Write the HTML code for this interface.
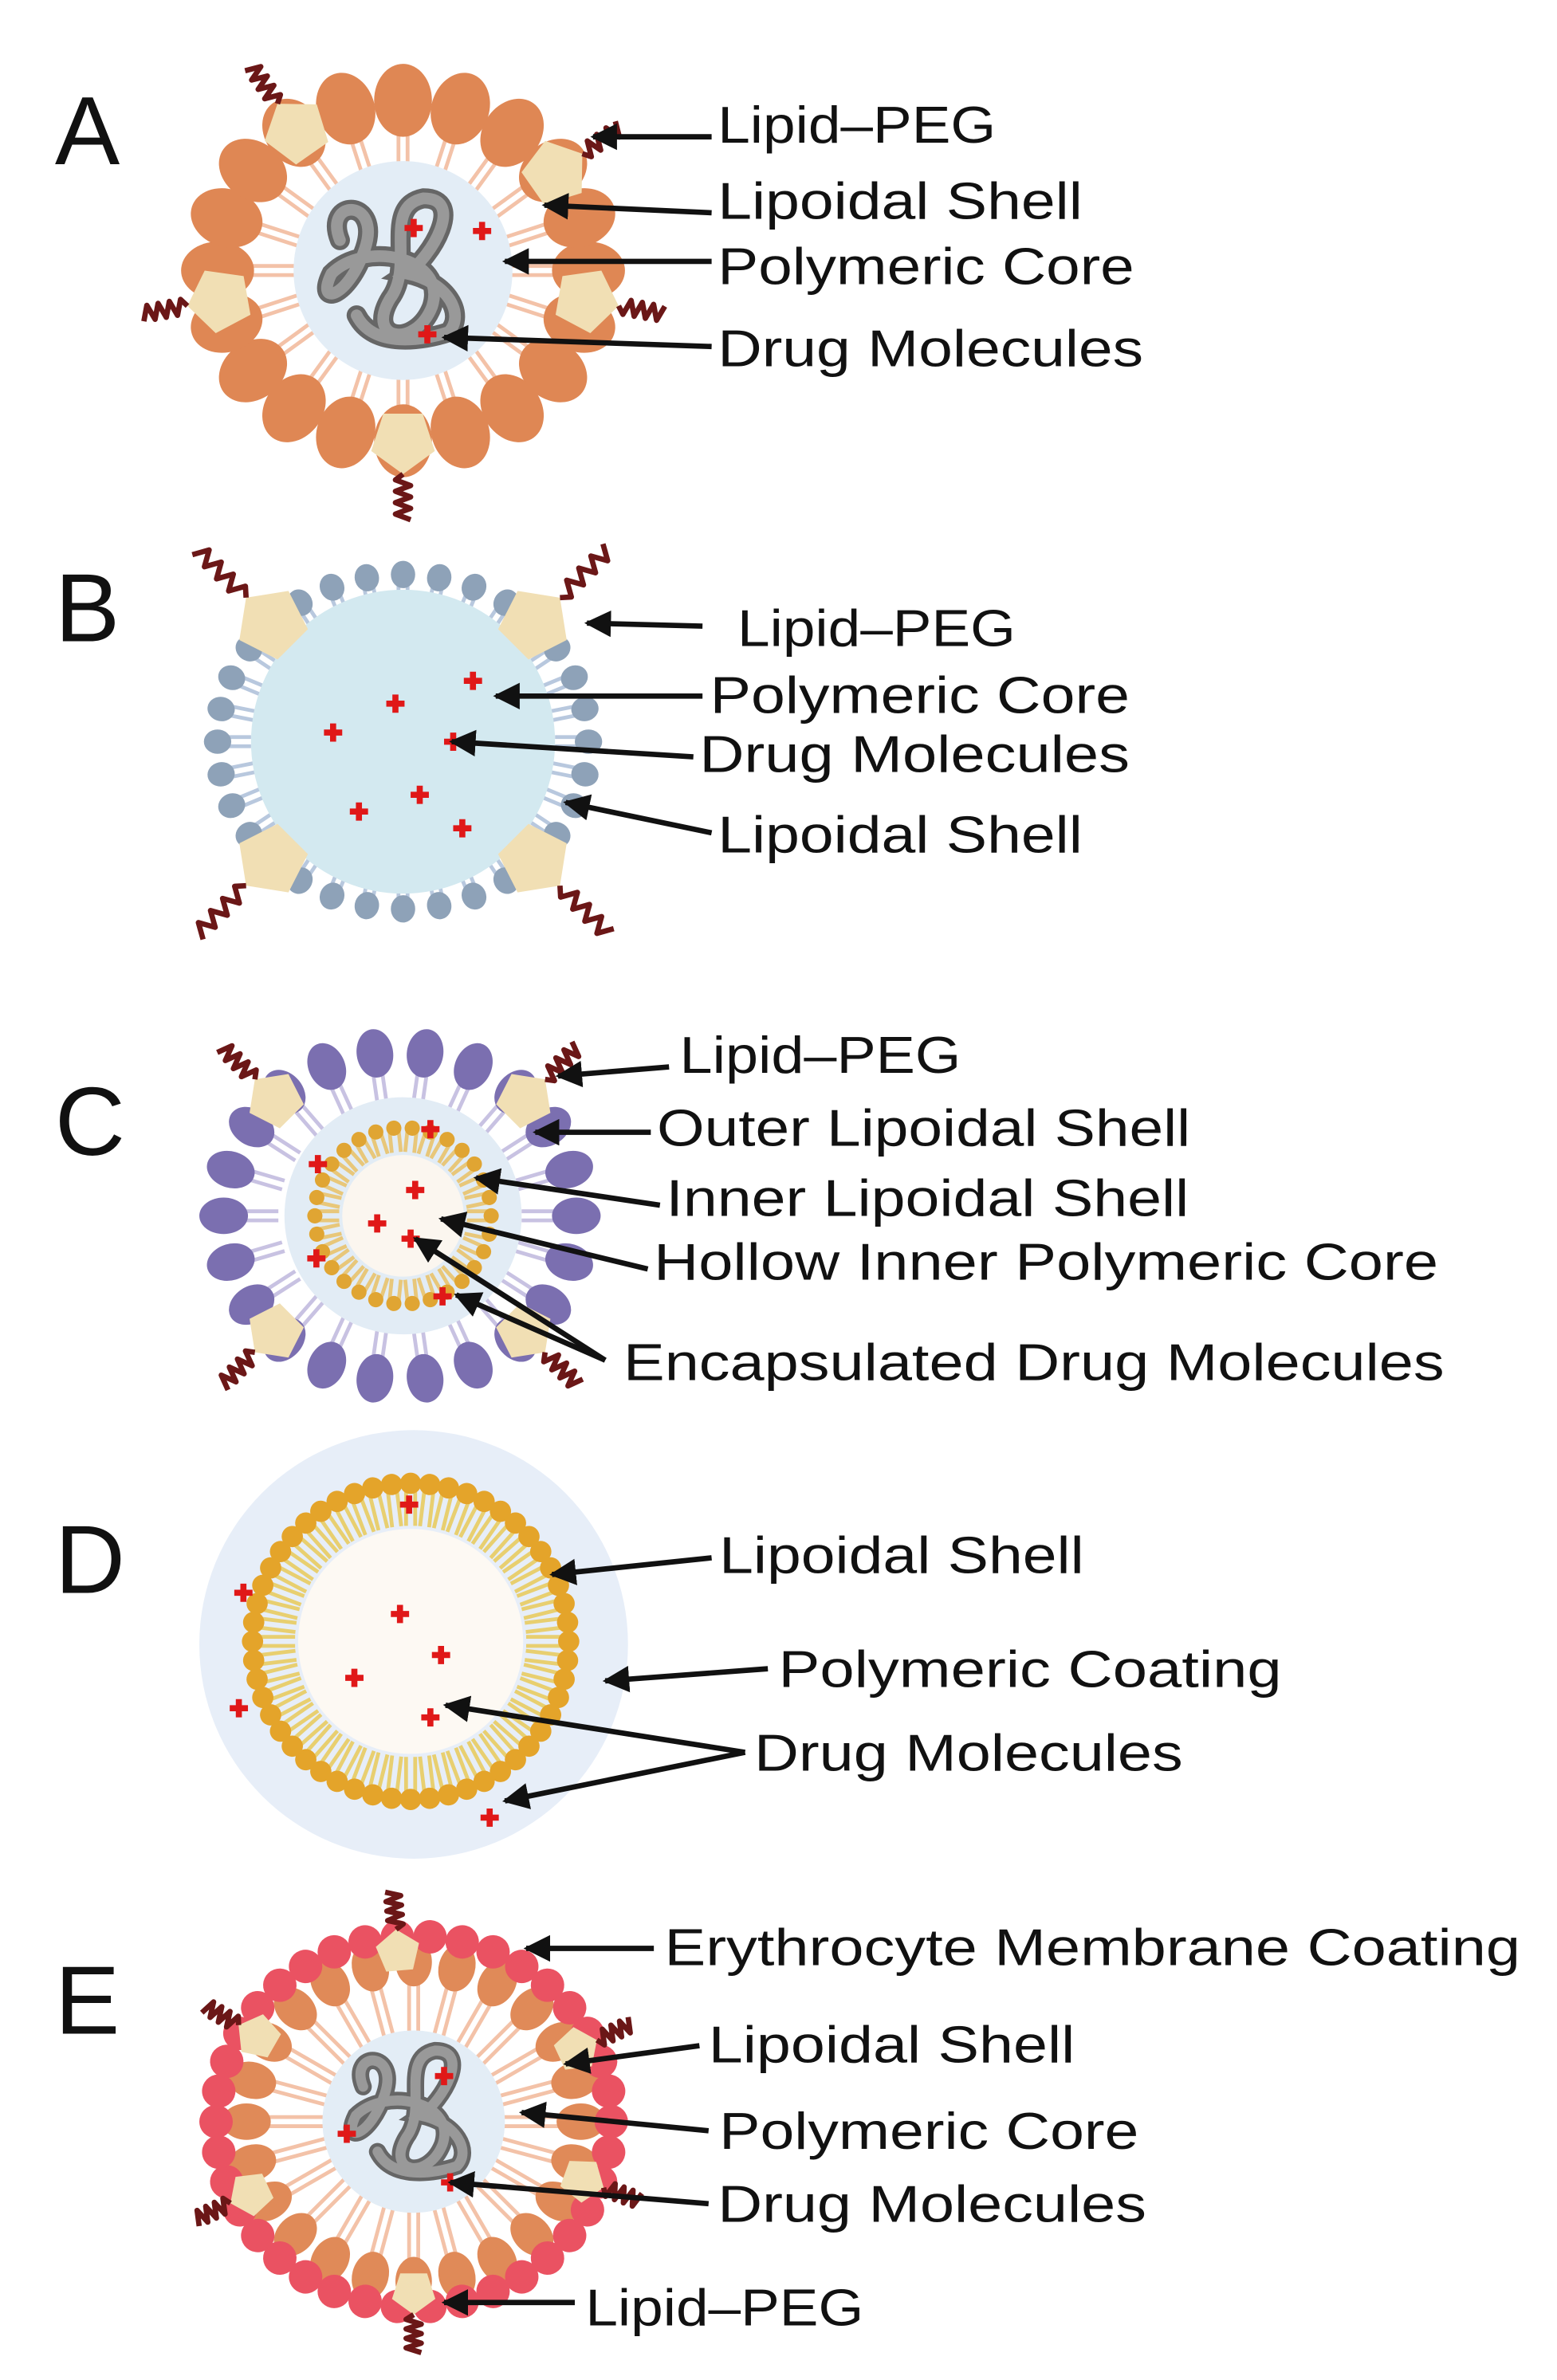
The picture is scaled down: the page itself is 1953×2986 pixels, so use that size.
<!DOCTYPE html>
<html><head><meta charset="utf-8"><style>
html,body{margin:0;padding:0;background:#fff;}
svg{display:block;}
text{font-family:"Liberation Sans",sans-serif;fill:#111;}
</style></head><body>
<svg id="s" width="1953" height="2986" viewBox="0 0 1024 1566" xmlns="http://www.w3.org/2000/svg">
<defs>
<marker id="ah" viewBox="0 0 10 10" refX="9" refY="5" markerWidth="5" markerHeight="5" orient="auto-start-reverse" markerUnits="strokeWidth"><path d="M0,0 L10,5 L0,10 z" fill="#111"/></marker>
</defs>
<g id="g"></g>
<g font-size="64">
<text x="36" y="108">A</text>
<text x="36" y="422">B</text>
<text x="36" y="760">C</text>
<text x="36" y="1048">D</text>
<text x="36" y="1338">E</text>
</g>
<g font-size="34" lengthAdjust="spacingAndGlyphs">
<text x="472" y="94" textLength="183" lengthAdjust="spacingAndGlyphs">Lipid–PEG</text>
<text x="472" y="144" textLength="240" lengthAdjust="spacingAndGlyphs">Lipoidal Shell</text>
<text x="472" y="187" textLength="274" lengthAdjust="spacingAndGlyphs">Polymeric Core</text>
<text x="472" y="241" textLength="280" lengthAdjust="spacingAndGlyphs">Drug Molecules</text>
<text x="485" y="425" textLength="183" lengthAdjust="spacingAndGlyphs">Lipid–PEG</text>
<text x="467" y="469" textLength="276" lengthAdjust="spacingAndGlyphs">Polymeric Core</text>
<text x="460" y="508" textLength="283" lengthAdjust="spacingAndGlyphs">Drug Molecules</text>
<text x="472" y="561" textLength="240" lengthAdjust="spacingAndGlyphs">Lipoidal Shell</text>
<text x="447" y="706" textLength="185" lengthAdjust="spacingAndGlyphs">Lipid–PEG</text>
<text x="432" y="754" textLength="351" lengthAdjust="spacingAndGlyphs">Outer Lipoidal Shell</text>
<text x="438" y="800" textLength="344" lengthAdjust="spacingAndGlyphs">Inner Lipoidal Shell</text>
<text x="430" y="842" textLength="516" lengthAdjust="spacingAndGlyphs">Hollow Inner Polymeric Core</text>
<text x="410" y="908" textLength="540" lengthAdjust="spacingAndGlyphs">Encapsulated Drug Molecules</text>
<text x="473" y="1035" textLength="240" lengthAdjust="spacingAndGlyphs">Lipoidal Shell</text>
<text x="512" y="1110" textLength="331" lengthAdjust="spacingAndGlyphs">Polymeric Coating</text>
<text x="496" y="1165" textLength="282" lengthAdjust="spacingAndGlyphs">Drug Molecules</text>
<text x="437" y="1293" textLength="563" lengthAdjust="spacingAndGlyphs">Erythrocyte Membrane Coating</text>
<text x="466" y="1357" textLength="241" lengthAdjust="spacingAndGlyphs">Lipoidal Shell</text>
<text x="473" y="1414" textLength="276" lengthAdjust="spacingAndGlyphs">Polymeric Core</text>
<text x="472" y="1462" textLength="282" lengthAdjust="spacingAndGlyphs">Drug Molecules</text>
<text x="385" y="1530" textLength="183" lengthAdjust="spacingAndGlyphs">Lipid–PEG</text>
</g>
</svg>
<script>
var g=document.getElementById('g'),h='';
function el(s){h+=s;}
function ring(cx,cy,rx,ry,n,hr,hry,col,tl,tcol,off){
 for(var i=0;i<n;i++){var a=(i+(off||0))/n*2*Math.PI,c=Math.cos(a),s=Math.sin(a);
  var x=cx+rx*c,y=cy+ry*s;
  var x2=cx+(rx-tl)*c,y2=cy+(ry-tl)*s,px=-s*3,py=c*3;
  el('<line x1="'+(x+px)+'" y1="'+(y+py)+'" x2="'+(x2+px)+'" y2="'+(y2+py)+'" stroke="'+tcol+'" stroke-width="2.5"/>');
  el('<line x1="'+(x-px)+'" y1="'+(y-py)+'" x2="'+(x2-px)+'" y2="'+(y2-py)+'" stroke="'+tcol+'" stroke-width="2.5"/>');
 }
 for(var i=0;i<n;i++){var a=(i+(off||0))/n*2*Math.PI;
  var x=cx+rx*Math.cos(a),y=cy+ry*Math.sin(a);
  el('<ellipse cx="'+x+'" cy="'+y+'" rx="'+hr+'" ry="'+hry+'" fill="'+col+'" transform="rotate('+(a*180/Math.PI)+' '+x+' '+y+')"/>');}
}
function peg(cx,cy,rx,ry,deg,sz,len){var a=deg*Math.PI/180,c=Math.cos(a),s=Math.sin(a);
 var x=cx+rx*c,y=cy+ry*s,p='';
 for(var k=0;k<5;k++){var b=a+k*2*Math.PI/5;p+=(x+sz*Math.cos(b))+','+(y+sz*Math.sin(b))+' ';}
 el('<polygon points="'+p+'" fill="#f1dfb4"/>');
 var d='M'+(x+sz*c)+','+(y+sz*s),L=len||30;
 for(var t=1;t<=8;t++){var r=sz+t*L/8,w=(t%2?5:-5);d+=' L'+(x+r*c-s*w)+','+(y+r*s+c*w);}
 el('<path d="'+d+'" fill="none" stroke="#6b1717" stroke-width="3.5" stroke-linejoin="round"/>');}
function drug(x,y){el('<path d="M'+(x-6)+','+y+'h12M'+x+','+(y-6)+'v12" stroke="#e01818" stroke-width="4"/>');}
function coil(cx,cy,s){var d="M-35,-20 C-45,-45 -10,-45 -20,-15 C-30,15 -50,20 -40,0 C-20,-20 30,-10 20,20 C10,45 -20,40 -5,15 C10,-5 -10,-40 15,-45 C40,-45 20,-10 5,0 C30,5 40,25 30,35 C15,40 -15,45 -25,25";
 el('<path transform="translate('+cx+','+cy+') scale('+s+')" d="'+d+'" fill="none" stroke="#666" stroke-width="12" stroke-linecap="round"/>');
 el('<path transform="translate('+cx+','+cy+') scale('+s+')" d="'+d+'" fill="none" stroke="#999" stroke-width="7" stroke-linecap="round"/>');}
function arr(x1,y1,x2,y2){el('<line x1="'+x1+'" y1="'+y1+'" x2="'+x2+'" y2="'+y2+'" stroke="#111" stroke-width="3.5" marker-end="url(#ah)"/>');}
// A
ring(265,178,122,112,20,24,19,'#df8754',70,'#f3c2a8');
el('<circle cx="265" cy="178" r="72" fill="#e3edf6"/>');
coil(262,180,1.1);
[-125,-35,10,170,90].forEach(function(d){peg(265,178,122,112,d,22,30);});
drug(272,150);drug(317,152);drug(281,220);
arr(468,90,390,90);arr(468,140,358,135);arr(468,172,332,172);arr(468,228,292,222);
// B
ring(265,488,122,110,32,9,8,'#8ea2b8',22,'#b8c8de');
el('<circle cx="265" cy="488" r="100" fill="#d3e9f0"/>');
[-45,-135,45,135].forEach(function(d){peg(265,488,122,110,d,24,45);});
[[260,463],[311,448],[219,482],[298,488],[236,534],[276,523],[304,545]].forEach(function(p){drug(p[0],p[1]);});
arr(462,412,386,410);arr(462,458,326,458);arr(456,498,297,488);arr(468,548,372,528);
// C
ring(263,800,116,108,22,16,12,'#7b6fb0',36,'#c8c2e2');
el('<circle cx="265" cy="800" r="78" fill="#e2ecf5"/>');
ring(265,800,58,58,30,5,5,'#e0a533',16,'#e8c77a');
el('<circle cx="265" cy="800" r="40" fill="#fbf6ef"/>');
[-45,-135,45,135].forEach(function(d){peg(263,800,116,108,d,19,30);});
[[283,743],[209,766],[273,783],[248,805],[270,815],[208,828],[291,853]].forEach(function(p){drug(p[0],p[1]);});
arr(440,702,367,708);arr(428,745,352,745);arr(434,793,313,775);arr(426,835,290,802);arr(398,895,273,815);arr(398,895,300,852);
// D
el('<circle cx="272" cy="1082" r="141" fill="#e7eef8"/>');
ring(270,1080,104,104,52,7,7,'#e4a42a',28,'#e8cf70');
el('<circle cx="270" cy="1080" r="74" fill="#fdf9f3"/>');
[[269,990],[160,1048],[263,1062],[290,1089],[233,1104],[157,1124],[283,1130],[322,1196]].forEach(function(p){drug(p[0],p[1]);});
arr(468,1025,363,1036);arr(505,1098,398,1106);arr(490,1153,293,1122);arr(490,1153,332,1185);
// E
ring(272,1396,110,105,24,16,12,'#e08a58',56,'#f3c2a8');
ring(272,1396,130,122,38,11,11,'#ea5262',0,'#fff');
el('<circle cx="272" cy="1396" r="60" fill="#e3edf6"/>');
coil(272,1392,0.95);
[-95,-25,20,155,90,-150].forEach(function(d){peg(272,1396,118,112,d,15,25);});
drug(292,1366);drug(228,1404);drug(296,1436);
arr(430,1282,346,1282);arr(460,1346,372,1358);arr(466,1402,343,1390);arr(466,1450,296,1436);arr(378,1515,292,1515);
g.innerHTML=h;
</script>
</body></html>
